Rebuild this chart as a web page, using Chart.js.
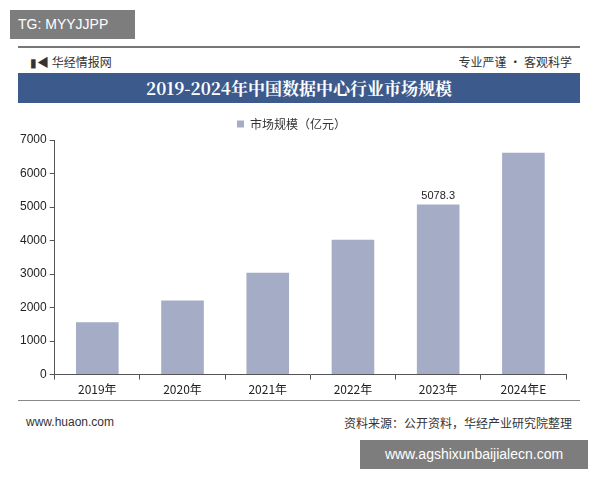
<!DOCTYPE html><html><head><meta charset="utf-8">
<script src="https://cdn.jsdelivr.net/npm/chart.js@4"></script>
<style>
body{margin:0;width:600px;height:480px;background:#fff;position:relative;font-family:"Noto Sans CJK SC",sans-serif;overflow:hidden}
.a{position:absolute}
</style></head><body>
<div class="a" style="left:18px;top:46px;width:562px;height:2px;background:#777"></div>
<div class="a" style="left:10px;top:10px;width:125px;height:29px;background:#7d7d7d;color:#fff;font-size:14px;line-height:29px;padding-left:8px;box-sizing:border-box;font-family:'Liberation Sans'">TG: MYYJJPP</div>
<div class="a" style="left:30px;top:53px;font-size:12px;color:#333">▮◀ 华经情报网</div>
<div class="a" style="right:28px;top:53px;font-size:12px;color:#333">专业严谨 • 客观科学</div>
<div class="a" style="left:18px;top:73px;width:562px;height:30px;background:#3d5a8c;color:#fff;font-family:'Noto Serif CJK SC','Noto Sans CJK SC',serif;font-weight:bold;font-size:17px;line-height:30px;text-align:center">2019-2024年中国数据中心行业市场规模</div>
<div class="a" style="left:18px;top:400px;width:562px;height:1px;background:#888"></div>
<div class="a" style="left:26px;top:415px;font-size:12px;color:#333;font-family:'Liberation Sans'">www.huaon.com</div>
<div class="a" style="right:28px;top:414px;font-size:12px;color:#333">资料来源：公开资料，华经产业研究院整理</div>
<div class="a" style="left:360px;top:440px;width:228px;height:29px;background:#7d7d7d;color:#fff;font-size:14px;line-height:29px;text-align:center;font-family:'Liberation Sans'">www.agshixunbaijialecn.com</div>
<div class="a" style="left:10px;top:108px;width:570px;height:292px"><canvas id="c"></canvas></div>
<script>
const categories=["2019年","2020年","2021年","2022年","2023年","2024年E"];
const values=[1560,2210,3040,4020,5078.3,6620];
const seriesName="市场规模（亿元）";
new Chart(document.getElementById('c'),{type:'bar',
data:{labels:categories,datasets:[{label:seriesName,data:values,backgroundColor:'#a5adc6',barPercentage:0.5,categoryPercentage:1}]},
options:{responsive:true,maintainAspectRatio:false,animation:false,
layout:{padding:{right:14,left:7}},
plugins:{legend:{labels:{boxWidth:7,boxHeight:7,color:'#333',font:{size:12,family:'Noto Sans CJK SC'}}},tooltip:{enabled:false}},
scales:{y:{min:0,max:7000,ticks:{stepSize:1000,color:'#222',font:{size:12},callback:v=>String(v)},grid:{drawOnChartArea:false,tickLength:5,color:'#555'},border:{color:'#555'}},
x:{ticks:{color:'#222',font:{size:12,family:'Noto Sans CJK SC'}},grid:{drawOnChartArea:false,tickLength:5,color:'#555'},border:{color:'#555'}}}},
plugins:[{id:'lbl',afterDatasetsDraw(ch){const m=ch.getDatasetMeta(0).data[4];const x=ch.ctx;x.save();x.font='11px sans-serif';x.fillStyle='#222';x.textAlign='center';x.fillText(String(values[4]),m.x,m.y-8);x.restore();}}]
});
</script></body></html>
